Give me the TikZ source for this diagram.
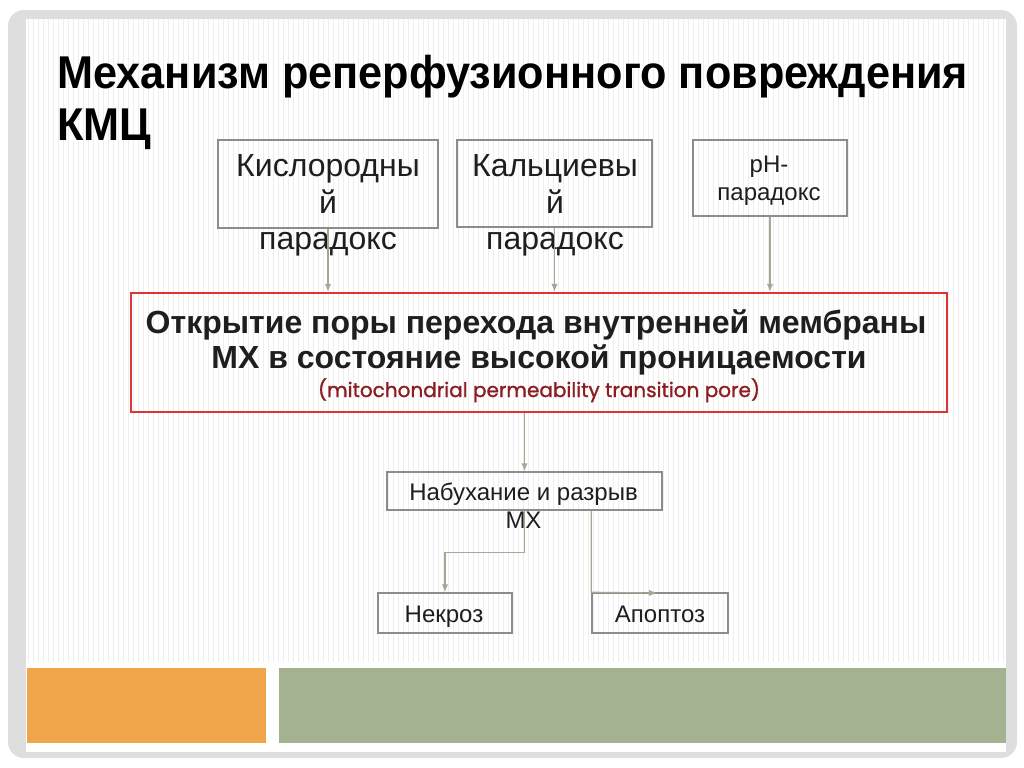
\documentclass[tikz,border=0pt]{standalone}
\usepackage{fontspec}
\setmainfont{Liberation Sans}
\newfontfamily\popfont[FakeBold=1.2]{Poppins}
\usetikzlibrary{arrows.meta}
\definecolor{framegray}{RGB}{222,222,222}
\definecolor{stripegray}{RGB}{238,238,238}
\definecolor{boxgray}{RGB}{140,140,140}
\definecolor{arrowgreen}{RGB}{160,170,148}
\definecolor{redline}{RGB}{222,52,52}
\definecolor{darkred}{RGB}{140,30,35}
\definecolor{barorange}{RGB}{240,165,75}
\definecolor{bargreen}{RGB}{165,178,145}
\definecolor{txt}{RGB}{30,30,30}
\tikzset{
  pbox/.style={draw=boxgray, line width=0.75pt, inner sep=0pt},
  redbox/.style={draw=redline, line width=1.2pt, inner sep=0pt},
  ltext/.style={inner sep=0pt, anchor=base, text=txt},
  arr/.style={draw=arrowgreen, line width=0.6pt, -{Latex[length=4pt,width=3.2pt]}},
  stripe/.style={draw=stripegray, line width=0.5pt}
}
\begin{document}
\begin{tikzpicture}[x=0.5pt,y=-0.5pt]
\useasboundingbox (0,0) rectangle (1024,767);
% frame
\fill[white] (0,0) rectangle (1024,767);
\fill[framegray, rounded corners=8pt] (8,10) rectangle (1017,758);
\fill[white] (26,19) rectangle (1006,752);
\foreach \x in {28,33,...,1004} \draw[stripe] (\x,19) -- (\x,662);
% bottom bars
\fill[barorange] (27,668) rectangle (266,743);
\fill[bargreen] (279,668) rectangle (1006,743);
% title
\node[inner sep=0pt, anchor=base west] (t1) at (57,88) {\scalebox{0.94}[1]{\fontsize{23pt}{27pt}\selectfont\bfseries Механизм реперфузионного повреждения}};
\node[inner sep=0pt, anchor=base west] (t2) at (57,140) {\scalebox{0.94}[1]{\fontsize{23pt}{27pt}\selectfont\bfseries КМЦ}};
% top boxes
\node[pbox, minimum width=110pt, minimum height=44pt] (kis) at (328,184) {};
\node[ltext] (kis1) at (328,176) {\fontsize{16pt}{18pt}\selectfont Кислородны};
\node[ltext] (kis2) at (328,213) {\fontsize{16pt}{18pt}\selectfont й};
\node[ltext] (kis3) at (328,249) {\fontsize{16pt}{18pt}\selectfont парадокс};
\node[pbox, minimum width=97.5pt, minimum height=43.5pt] (kal) at (554.5,183.5) {};
\node[ltext] (kal1) at (555,176) {\fontsize{16pt}{18pt}\selectfont Кальциевы};
\node[ltext] (kal2) at (555,213) {\fontsize{16pt}{18pt}\selectfont й};
\node[ltext] (kal3) at (555,249) {\fontsize{16pt}{18pt}\selectfont парадокс};
\node[pbox, minimum width=77pt, minimum height=38pt] (ph) at (770,178) {};
\node[ltext] (ph1) at (769,172) {\fontsize{12pt}{14pt}\selectfont pH-};
\node[ltext] (ph2) at (769,200) {\fontsize{12pt}{14pt}\selectfont парадокс};
% red box
\node[redbox, minimum width=408pt, minimum height=59.5pt] (red) at (539,352.5) {};
\node[ltext] (r1) at (536,333) {\fontsize{16pt}{18pt}\selectfont\bfseries Открытие поры перехода внутренней мембраны};
\node[ltext] (r2) at (539,368) {\fontsize{16pt}{18pt}\selectfont\bfseries МХ в состояние высокой проницаемости};
\node[ltext, text=darkred] (r3) at (539,397) {\resizebox{221pt}{!}{\fontsize{9pt}{11pt}\popfont (mitochondrial permeability transition pore)}};
% lower boxes
\node[pbox, minimum width=137.5pt, minimum height=19pt] (nab) at (524.5,491) {};
\node[ltext] (nab1) at (523.5,500) {\fontsize{12pt}{14pt}\selectfont Набухание и разрыв};
\node[ltext] (nab2) at (523.5,528) {\fontsize{12pt}{14pt}\selectfont МХ};
\node[pbox, minimum width=67pt, minimum height=20pt] (nek) at (445,613) {};
\node[ltext] (nek1) at (444,622) {\fontsize{12pt}{14pt}\selectfont Некроз};
\node[pbox, minimum width=68pt, minimum height=20pt] (apo) at (660,613) {};
\node[ltext] (apo1) at (660,622) {\fontsize{12pt}{14pt}\selectfont Апоптоз};
% connectors
\draw[arr] (kis.south) -- (kis.south |- red.north);
\draw[arr] (kal.south) -- (kal.south |- red.north);
\draw[arr] (ph.south) -- (ph.south |- red.north);
\draw[arr] (red.south -| nab.north) -- (nab.north);
\draw[arr] (nab.south) -- ++(0,42) -| (nek.north);
\coordinate (apoend) at (657,593);
\draw[arr] (nab.south -| apo.north west) -- (apo.north west) -- (apoend);
\end{tikzpicture}
\end{document}
